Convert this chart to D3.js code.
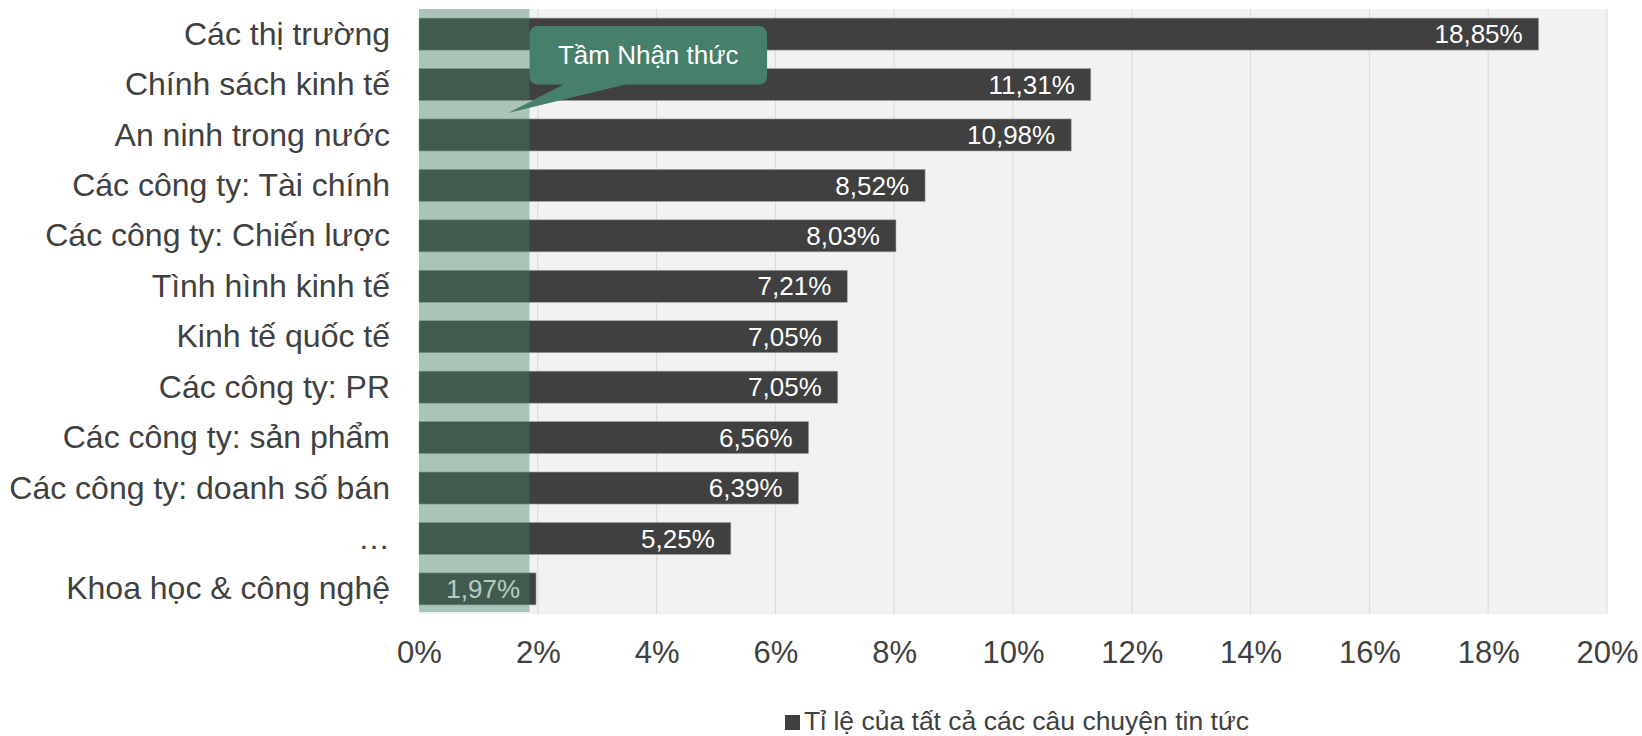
<!DOCTYPE html>
<html>
<head>
<meta charset="utf-8">
<script src="https://cdn.jsdelivr.net/npm/d3@7"></script>
<style>
  body { margin: 0; background: #fff; }
  svg text { font-family: "Liberation Sans", Arial, sans-serif; }
</style>
</head>
<body>
<svg id="viz"></svg>
<script>
// Chart data
const categories = [
  "Các thị trường", "Chính sách kinh tế", "An ninh trong nước",
  "Các công ty: Tài chính", "Các công ty: Chiến lược", "Tình hình kinh tế",
  "Kinh tế quốc tế", "Các công ty: PR", "Các công ty: sản phẩm",
  "Các công ty: doanh số bán", "…", "Khoa học & công nghệ"
];
const shares = [18.85, 11.31, 10.98, 8.52, 8.03, 7.21, 7.05, 7.05, 6.56, 6.39, 5.25, 1.97];
const xTicks = [0, 2, 4, 6, 8, 10, 12, 14, 16, 18, 20];
const seriesName = "Tỉ lệ của tất cả các câu chuyện tin tức";
const awarenessLabel = "Tầm Nhận thức";
const awarenessLevel = 1.86;

const width = 1642, height = 736;
const margin = { top: 9, right: 35, bottom: 122, left: 419 };
const plotW = width - margin.left - margin.right;
const plotH = height - margin.top - margin.bottom;

const svg = d3.select("#viz").attr("width", width).attr("height", height);
const g = svg.append("g").attr("transform", `translate(${margin.left}, ${margin.top})`);

const x = d3.scaleLinear().domain([0, 20]).range([0, plotW]);
const y = d3.scaleBand().domain(categories).range([0, plotH])
  .paddingInner(0.365).paddingOuter(0.18);

const fmt = v => d3.format(".2f")(v).replace(".", ",") + "%";

// plot background
g.append("rect").attr("width", plotW).attr("height", plotH).attr("fill", "#f2f2f2");

// gridlines
g.selectAll(".grid").data(xTicks.filter(d => d > 0)).enter()
  .append("line")
  .attr("x1", d => x(d)).attr("x2", d => x(d))
  .attr("y1", 0).attr("y2", plotH)
  .attr("stroke", "#d9d9d9").attr("stroke-width", 1);

// bars
g.selectAll(".bar").data(shares).enter()
  .append("rect")
  .attr("x", 0)
  .attr("y", (d, i) => y(categories[i]))
  .attr("width", d => x(d))
  .attr("height", y.bandwidth())
  .attr("fill", "#404040")
  .attr("stroke", "#a6a6a6")
  .attr("stroke-width", 0.6);

// value labels
g.selectAll(".val").data(shares).enter()
  .append("text")
  .attr("x", d => x(d) - 16)
  .attr("y", (d, i) => y(categories[i]) + y.bandwidth() / 2)
  .attr("dy", "0.35em")
  .attr("text-anchor", "end")
  .attr("fill", "#fff")
  .style("font-size", "26px")
  .text(fmt);

// awareness band (translucent green)
g.append("rect")
  .attr("x", 0).attr("y", 0)
  .attr("width", x(awarenessLevel))
  .attr("height", plotH - 2)
  .attr("fill", "rgb(69,133,101)")
  .attr("opacity", 0.41);

// x axis
const xAxis = g.append("g")
  .attr("transform", `translate(0, ${plotH})`)
  .call(d3.axisBottom(x).tickValues(xTicks).tickSize(0).tickFormat(d => d + "%"));
xAxis.select(".domain").remove();
xAxis.selectAll("text")
  .attr("y", 49).attr("dy", null)
  .attr("fill", "#404040")
  .style("font-size", "31px");

// y axis
const yAxis = g.append("g")
  .call(d3.axisLeft(y).tickSize(0).tickPadding(29));
yAxis.select(".domain").remove();
yAxis.selectAll("text")
  .attr("fill", "#404040")
  .attr("dy", "0.33em")
  .style("font-size", "32px");

// callout
const boxX0 = x(awarenessLevel), boxX1 = x(5.86);
const boxY0 = y(categories[0]) + 8;
const boxY1 = y(categories[1]) + y.bandwidth() / 2;
const tip = [x(1.5), y(categories[2]) - 6];
const callout = g.append("g");
callout.append("rect")
  .attr("x", boxX0).attr("y", boxY0)
  .attr("width", boxX1 - boxX0).attr("height", boxY1 - boxY0)
  .attr("rx", 8)
  .attr("fill", "#47806a");
callout.append("path")
  .attr("d", `M${boxX0 + 36},${boxY1 - 1} L${tip[0]},${tip[1]} L${boxX0 + 100},${boxY1 - 1} Z`)
  .attr("fill", "#47806a");
callout.append("text")
  .attr("x", (boxX0 + boxX1) / 2)
  .attr("y", (boxY0 + boxY1) / 2)
  .attr("dy", "0.35em")
  .attr("text-anchor", "middle")
  .attr("fill", "#fff")
  .style("font-size", "26px")
  .text(awarenessLabel);

// legend
const legend = svg.append("g").attr("transform", "translate(785, 715)");
legend.append("rect").attr("width", 15).attr("height", 15).attr("fill", "#404040");
legend.append("text")
  .attr("x", 19).attr("y", 15)
  .attr("fill", "#404040")
  .style("font-size", "26.5px")
  .text(seriesName);
</script>
</body>
</html>
